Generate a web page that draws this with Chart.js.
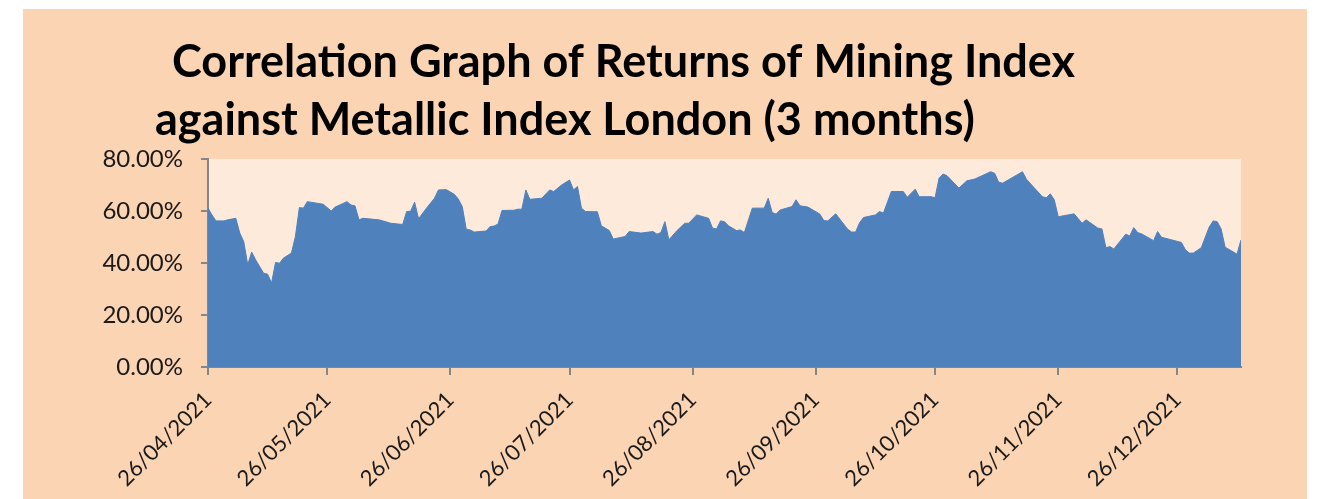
<!DOCTYPE html>
<html><head><meta charset="utf-8">
<script src="https://cdn.jsdelivr.net/npm/chart.js@4/dist/chart.umd.min.js"></script>
<style>html,body{margin:0;padding:0;background:#fff;overflow:hidden}canvas{display:block}</style>
</head><body>
<canvas id="c" width="1320" height="499"></canvas>
<script>
const titleLines = ['Correlation Graph of Returns of Mining Index', 'against Metallic Index London (3 months)'];

const dates = [
'26/04/2021','27/04/2021','28/04/2021','30/04/2021','01/05/2021','03/05/2021','04/05/2021','05/05/2021','06/05/2021','07/05/2021',
'08/05/2021','10/05/2021','11/05/2021','12/05/2021','13/05/2021','14/05/2021','15/05/2021','17/05/2021','18/05/2021','19/05/2021',
'20/05/2021','21/05/2021','25/05/2021','27/05/2021','28/05/2021','31/05/2021','01/06/2021','02/06/2021','03/06/2021','04/06/2021',
'08/06/2021','09/06/2021','11/06/2021','14/06/2021','15/06/2021','16/06/2021','17/06/2021','18/06/2021','20/06/2021','22/06/2021',
'23/06/2021','25/06/2021','27/06/2021','28/06/2021','29/06/2021','30/06/2021','01/07/2021','02/07/2021','05/07/2021','06/07/2021',
'07/07/2021','08/07/2021','09/07/2021','12/07/2021','13/07/2021','14/07/2021','15/07/2021','16/07/2021','19/07/2021','21/07/2021',
'22/07/2021','24/07/2021','26/07/2021','27/07/2021','28/07/2021','29/07/2021','30/07/2021','02/08/2021','03/08/2021','05/08/2021',
'06/08/2021','09/08/2021','10/08/2021','13/08/2021','16/08/2021','17/08/2021','18/08/2021','19/08/2021','20/08/2021','22/08/2021',
'24/08/2021','25/08/2021','27/08/2021','30/08/2021','31/08/2021','01/09/2021','02/09/2021','03/09/2021','04/09/2021','06/09/2021',
'07/09/2021','08/09/2021','10/09/2021','13/09/2021','14/09/2021','15/09/2021','16/09/2021','17/09/2021','20/09/2021','21/09/2021',
'22/09/2021','24/09/2021','27/09/2021','28/09/2021','29/09/2021','01/10/2021','04/10/2021','05/10/2021','06/10/2021','07/10/2021',
'08/10/2021','11/10/2021','12/10/2021','13/10/2021','15/10/2021','18/10/2021','19/10/2021','21/10/2021','22/10/2021','25/10/2021',
'26/10/2021','27/10/2021','28/10/2021','29/10/2021','01/11/2021','03/11/2021','05/11/2021','09/11/2021','10/11/2021','11/11/2021',
'12/11/2021','17/11/2021','18/11/2021','22/11/2021','23/11/2021','24/11/2021','25/11/2021','26/11/2021','30/11/2021','02/12/2021',
'03/12/2021','06/12/2021','07/12/2021','08/12/2021','09/12/2021','10/12/2021','13/12/2021','14/12/2021','15/12/2021','16/12/2021',
'17/12/2021','20/12/2021','21/12/2021','22/12/2021','27/12/2021','28/12/2021','29/12/2021','30/12/2021','01/01/2022','03/01/2022',
'04/01/2022','05/01/2022','06/01/2022','07/01/2022','10/01/2022','11/01/2022'
];

const correlation = [
61.1,58.5,56.2,56.2,56.6,57.2,51.5,48.2,39.3,44.2,
41.2,36.1,35.7,32.3,40.2,39.9,41.9,43.8,50.2,61.3,
61.1,63.6,62.6,60.0,61.5,63.6,62.3,62.0,56.6,57.2,
56.6,56.2,55.3,54.8,59.8,59.9,63.4,57.0,61.1,64.9,
68.1,68.2,66.4,64.6,61.7,53.0,52.7,51.9,52.3,54.0,
54.2,55.0,60.2,60.3,60.7,60.7,68.1,64.5,64.9,68.1,
67.5,70.0,71.9,68.1,69.4,61.1,59.8,59.7,54.3,52.5,
49.2,50.2,52.1,51.5,52.1,51.1,51.7,55.9,48.9,52.4,
55.3,55.3,58.5,57.2,53.4,53.1,56.2,55.9,54.3,52.5,
52.7,51.7,61.1,61.1,64.9,59.4,58.8,60.4,61.7,64.3,
62.0,61.5,58.8,56.3,56.2,58.9,53.0,51.9,51.9,55.5,
57.5,58.5,59.8,59.2,67.5,67.5,65.3,68.4,65.5,65.5,
65.1,72.6,74.2,73.6,68.8,71.6,72.3,75.1,74.5,71.1,
70.7,75.1,72.2,65.5,65.1,66.6,64.3,57.8,58.9,55.3,
56.6,53.4,53.1,45.9,46.3,45.4,51.1,50.4,53.6,51.7,
51.2,48.6,52.1,49.9,47.9,45.1,43.8,43.8,45.9,53.8,
56.2,55.9,53.1,46.1,43.4,48.9
];

const tickLabels = ['26/04/2021','26/05/2021','26/06/2021','26/07/2021','26/08/2021','26/09/2021','26/10/2021','26/11/2021','26/12/2021'];
const yMin = 0, yMax = 80, yStep = 20;

function toUTC(s){ const p = s.split('/'); return Date.UTC(+p[2], +p[1]-1, +p[0]); }
const t0 = toUTC(dates[0]);
function dayOf(s){ return Math.round((toUTC(s) - t0) / 86400000); }

const points = dates.map((d,i) => ({x: dayOf(d), y: correlation[i]}));
const tickMap = {};
tickLabels.forEach(l => { tickMap[dayOf(l)] = l; });

const bgPlugin = {
  id: 'bg',
  beforeDraw(chart){
    const ctx = chart.ctx, a = chart.chartArea;
    ctx.save();
    ctx.fillStyle = '#ffffff';
    ctx.fillRect(0,0,chart.width,chart.height);
    ctx.fillStyle = '#FBD4B4';
    ctx.fillRect(23,9,1284,chart.height-9);
    ctx.fillStyle = '#FDEADA';
    ctx.fillRect(a.left, a.top, a.right-a.left, a.bottom-a.top);
    ctx.fillStyle = '#000000';
    ctx.font = 'bold 45px Lato';
    ctx.textBaseline = 'alphabetic';
    ctx.textAlign = 'left';
    ctx.fillText(titleLines[0], 172, 77);
    ctx.fillText(titleLines[1], 155, 135);
    ctx.restore();
  }
};

new Chart(document.getElementById('c'), {
  type: 'line',
  data: {
    datasets: [{
      data: points,
      fill: 'origin',
      backgroundColor: '#4F81BD',
      borderColor: '#4F81BD',
      borderWidth: 1,
      pointRadius: 0,
      tension: 0
    }]
  },
  options: {
    responsive: false,
    animation: false,
    events: [],
    layout: { padding: { top: 159, right: 79, bottom: 0, left: 0 } },
    plugins: { legend: { display: false }, title: { display: false }, tooltip: { enabled: false } },
    scales: {
      x: {
        type: 'linear',
        min: 0,
        max: dayOf(dates[dates.length-1]),
        afterBuildTicks(scale){ scale.ticks = tickLabels.map(l => ({value: dayOf(l)})); },
        afterFit(scale){ scale.height = 132; },
        grid: { drawOnChartArea: false, drawTicks: true, tickLength: 8, color: '#868686', lineWidth: 2 },
        border: { color: '#868686', width: 2 },
        ticks: {
          autoSkip: false, minRotation: 45, maxRotation: 45, padding: 12,
          color: '#1a1a1a', font: { family: 'Lato', size: 22 },
          callback: (v) => tickMap[v] || ''
        }
      },
      y: {
        min: yMin, max: yMax,
        afterFit(scale){ scale.width = 208; },
        grid: { drawOnChartArea: false, drawTicks: true, tickLength: 7, color: '#868686', lineWidth: 2 },
        border: { color: '#868686', width: 2 },
        ticks: {
          stepSize: yStep, padding: 18,
          color: '#1a1a1a', font: { family: 'Lato', size: 24 },
          callback: (v) => v.toFixed(2) + '%'
        }
      }
    }
  },
  plugins: [bgPlugin]
});
</script>
</body></html>
